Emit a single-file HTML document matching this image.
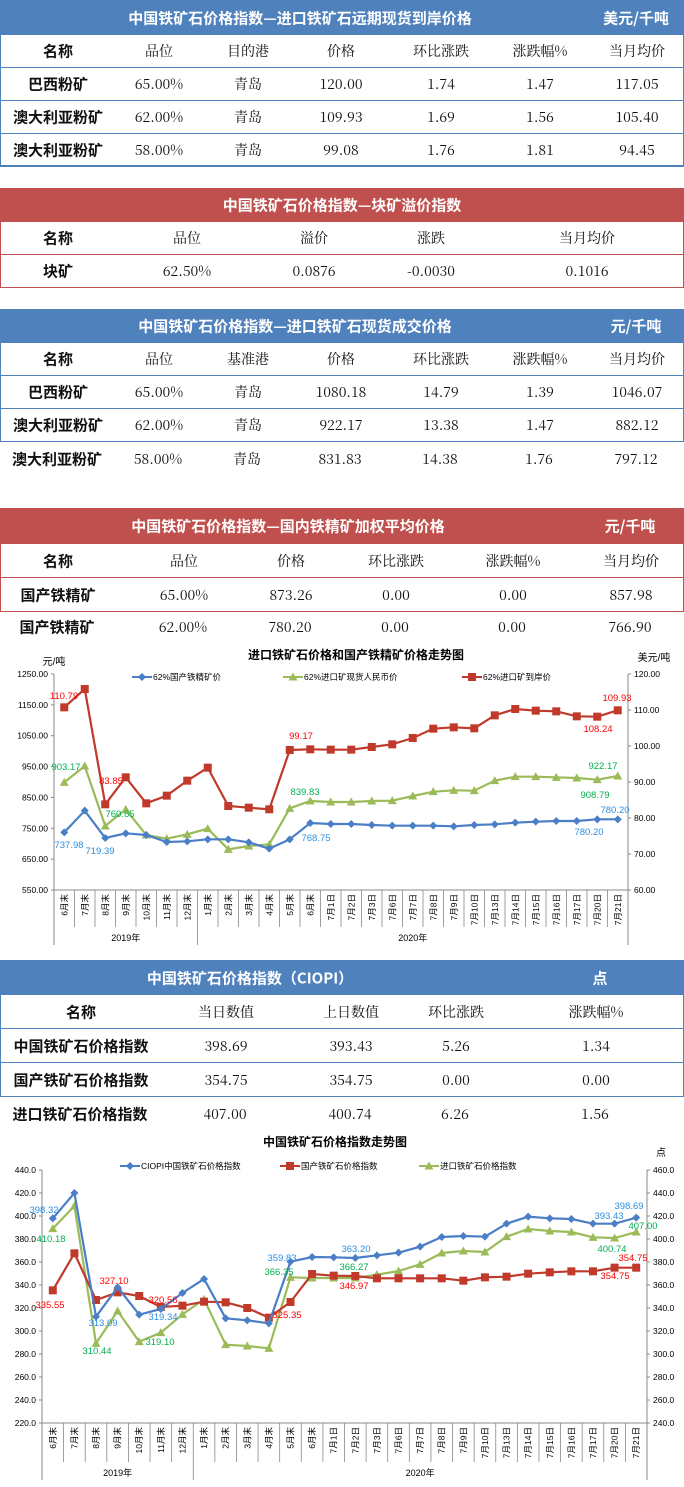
<!DOCTYPE html>
<html><head><meta charset="utf-8">
<style>
*{margin:0;padding:0;box-sizing:border-box}
body{width:684px;height:1487px;background:#fff;position:relative;overflow:hidden;font-family:"Liberation Sans","Noto Sans CJK SC",sans-serif}
.hd{position:absolute;left:0;width:684px;color:#fff;font-weight:bold;font-size:15px;font-family:"Noto Sans CJK SC",sans-serif}
.hd span{position:absolute;top:50%;transform:translate(-50%,-50%);white-space:nowrap}
.blue{background:#4f81bd}.red{background:#c0504d}
.row{position:absolute;left:0;width:684px}
.row span{position:absolute;top:50%;transform:translate(-50%,-50%);white-space:nowrap;font-size:14px;font-family:"Noto Serif CJK SC","Liberation Serif",serif;color:#111}
.row span.b{font-weight:bold;font-family:"Noto Sans CJK SC",sans-serif;font-size:15px}
.bb{border:1.5px solid #4f81bd;border-top:none}
.rb{border:1.5px solid #c0504d;border-top:none}
svg text{font-family:"Liberation Sans","Noto Sans CJK SC",sans-serif}
</style></head><body>

<div class="hd blue" style="top:0;height:35px"><span style="left:300px">中国铁矿石价格指数—进口铁矿石远期现货到岸价格</span><span style="left:636px">美元/千吨</span></div>
<div class="row bb" style="top:35px;height:33px"><span class="b" style="left:57px">名称</span><span style="left:158px">品位</span><span style="left:247px">目的港</span><span style="left:340px">价格</span><span style="left:440px">环比涨跌</span><span style="left:539px">涨跌幅%</span><span style="left:636px">当月均价</span></div>
<div class="row bb" style="top:68px;height:33px"><span class="b" style="left:57px">巴西粉矿</span><span style="left:158px">65.00%</span><span style="left:247px">青岛</span><span style="left:340px">120.00</span><span style="left:440px">1.74</span><span style="left:539px">1.47</span><span style="left:636px">117.05</span></div>
<div class="row bb" style="top:101px;height:33px"><span class="b" style="left:57px">澳大利亚粉矿</span><span style="left:158px">62.00%</span><span style="left:247px">青岛</span><span style="left:340px">109.93</span><span style="left:440px">1.69</span><span style="left:539px">1.56</span><span style="left:636px">105.40</span></div>
<div class="row bb" style="top:134px;height:33px;border-bottom-width:2px"><span class="b" style="left:57px">澳大利亚粉矿</span><span style="left:158px">58.00%</span><span style="left:247px">青岛</span><span style="left:340px">99.08</span><span style="left:440px">1.76</span><span style="left:539px">1.81</span><span style="left:636px">94.45</span></div>

<div class="hd red" style="top:188px;height:34px"><span style="left:342px">中国铁矿石价格指数—块矿溢价指数</span></div>
<div class="row rb" style="top:222px;height:33px"><span class="b" style="left:57px">名称</span><span style="left:186px">品位</span><span style="left:313px">溢价</span><span style="left:430px">涨跌</span><span style="left:586px">当月均价</span></div>
<div class="row rb" style="top:255px;height:33px"><span class="b" style="left:57px">块矿</span><span style="left:186px">62.50%</span><span style="left:313px">0.0876</span><span style="left:430px">-0.0030</span><span style="left:586px">0.1016</span></div>

<div class="hd blue" style="top:309px;height:34px"><span style="left:295px">中国铁矿石价格指数—进口铁矿石现货成交价格</span><span style="left:636px">元/千吨</span></div>
<div class="row bb" style="top:343px;height:33px"><span class="b" style="left:57px">名称</span><span style="left:158px">品位</span><span style="left:247px">基准港</span><span style="left:340px">价格</span><span style="left:440px">环比涨跌</span><span style="left:539px">涨跌幅%</span><span style="left:636px">当月均价</span></div>
<div class="row bb" style="top:376px;height:33px"><span class="b" style="left:57px">巴西粉矿</span><span style="left:158px">65.00%</span><span style="left:247px">青岛</span><span style="left:340px">1080.18</span><span style="left:440px">14.79</span><span style="left:539px">1.39</span><span style="left:636px">1046.07</span></div>
<div class="row bb" style="top:409px;height:33px"><span class="b" style="left:57px">澳大利亚粉矿</span><span style="left:158px">62.00%</span><span style="left:247px">青岛</span><span style="left:340px">922.17</span><span style="left:440px">13.38</span><span style="left:539px">1.47</span><span style="left:636px">882.12</span></div>
<div class="row" style="top:442px;height:34px"><span class="b" style="left:57px">澳大利亚粉矿</span><span style="left:158px">58.00%</span><span style="left:247px">青岛</span><span style="left:340px">831.83</span><span style="left:440px">14.38</span><span style="left:539px">1.76</span><span style="left:636px">797.12</span></div>

<div class="hd red" style="top:508px;height:36px"><span style="left:288px">中国铁矿石价格指数—国内铁精矿加权平均价格</span><span style="left:630px">元/千吨</span></div>
<div class="row rb" style="top:544px;height:34px"><span class="b" style="left:57px">名称</span><span style="left:183px">品位</span><span style="left:290px">价格</span><span style="left:395px">环比涨跌</span><span style="left:512px">涨跌幅%</span><span style="left:630px">当月均价</span></div>
<div class="row rb" style="top:578px;height:34px"><span class="b" style="left:57px">国产铁精矿</span><span style="left:183px">65.00%</span><span style="left:290px">873.26</span><span style="left:395px">0.00</span><span style="left:512px">0.00</span><span style="left:630px">857.98</span></div>
<div class="row" style="top:612px;height:30px"><span class="b" style="left:57px">国产铁精矿</span><span style="left:183px">62.00%</span><span style="left:290px">780.20</span><span style="left:395px">0.00</span><span style="left:512px">0.00</span><span style="left:630px">766.90</span></div>

<div class="hd blue" style="top:960px;height:35px"><span style="left:250px">中国铁矿石价格指数（CIOPI）</span><span style="left:600px">点</span></div>
<div class="row bb" style="top:995px;height:34px"><span class="b" style="left:80px">名称</span><span style="left:225px">当日数值</span><span style="left:350px">上日数值</span><span style="left:455px">环比涨跌</span><span style="left:595px">涨跌幅%</span></div>
<div class="row bb" style="top:1029px;height:34px"><span class="b" style="left:80px">中国铁矿石价格指数</span><span style="left:225px">398.69</span><span style="left:350px">393.43</span><span style="left:455px">5.26</span><span style="left:595px">1.34</span></div>
<div class="row bb" style="top:1063px;height:34px"><span class="b" style="left:80px">国产铁矿石价格指数</span><span style="left:225px">354.75</span><span style="left:350px">354.75</span><span style="left:455px">0.00</span><span style="left:595px">0.00</span></div>
<div class="row" style="top:1097px;height:33px"><span class="b" style="left:80px">进口铁矿石价格指数</span><span style="left:225px">407.00</span><span style="left:350px">400.74</span><span style="left:455px">6.26</span><span style="left:595px">1.56</span></div>

<svg id="s" width="684" height="1487" style="position:absolute;left:0;top:0"></svg>
<script>
var cats=["6月末","7月末","8月末","9月末","10月末","11月末","12月末","1月末","2月末","3月末","4月末","5月末","6月末","7月1日","7月2日","7月3日","7月6日","7月7日","7月8日","7月9日","7月10日","7月13日","7月14日","7月15日","7月16日","7月17日","7月20日","7月21日"];
var o='';
function T(x,y,t,c,s,a,extra){o+='<text x="'+x+'" y="'+y+'" fill="'+(c||'#000')+'" font-size="'+(s||9)+'" text-anchor="'+(a||'middle')+'" '+(extra||'')+'>'+t+'</text>';}
function mk(type,x,y,c){
 if(type=='d')o+='<polygon points="'+x+','+(y-4)+' '+(x+4)+','+y+' '+x+','+(y+4)+' '+(x-4)+','+y+'" fill="'+c+'"/>';
 else if(type=='s')o+='<rect x="'+(x-4)+'" y="'+(y-4)+'" width="8" height="8" fill="'+c+'"/>';
 else o+='<polygon points="'+x+','+(y-4.5)+' '+(x+4.5)+','+(y+3.5)+' '+(x-4.5)+','+(y+3.5)+'" fill="'+c+'"/>';}
function chart(c){
 var n=28,w=(c.R-c.L)/n;
 o+='<line x1="'+c.L+'" y1="'+c.T+'" x2="'+c.L+'" y2="'+c.yb+'" stroke="#888"/>';
 o+='<line x1="'+c.R+'" y1="'+c.T+'" x2="'+c.R+'" y2="'+c.yb+'" stroke="#888"/>';
 o+='<line x1="'+c.L+'" y1="'+c.B+'" x2="'+c.R+'" y2="'+c.B+'" stroke="#888"/>';
 for(var i=0;i<=n;i++){var x=c.L+i*w;o+='<line x1="'+x+'" y1="'+c.B+'" x2="'+x+'" y2="'+(i==0||i==7||i==n?c.yb:c.catB)+'" stroke="#888" stroke-width="0.8"/>';}
 for(var i=0;i<n;i++){var x=c.L+(i+.5)*w,y=c.B+4;T(0,0,cats[i],'#000',8.5,'end','transform="translate('+(x+3)+','+y+') rotate(-90)"');}
 T(c.L+3.5*w,c.yr,'2019年','#000',9);T(c.L+17.5*w,c.yr,'2020年','#000',9);
 for(var k=0;k<c.lt.length;k++){var y=c.T+(c.B-c.T)*k/(c.lt.length-1);
  o+='<line x1="'+(c.L-3)+'" y1="'+y+'" x2="'+c.L+'" y2="'+y+'" stroke="#888"/>';
  T(c.L-6,y+3,c.lt[k],'#000',8.5,'end');}
 for(var k=0;k<c.rt.length;k++){var y=c.T+(c.B-c.T)*k/(c.rt.length-1);
  o+='<line x1="'+c.R+'" y1="'+y+'" x2="'+(c.R+3)+'" y2="'+y+'" stroke="#888"/>';
  T(c.R+6,y+3,c.rt[k],'#000',8.5,'start');}
 c.s.forEach(function(s){var p=s.y.map(function(v,i){return [c.L+(i+.5)*w,c.oy+v/3];});
  o+='<polyline points="'+p.map(function(q){return q.join(',')}).join(' ')+'" fill="none" stroke="'+s.c+'" stroke-width="2.2"/>';
  p.forEach(function(q){mk(s.m,q[0],q[1],s.c);});});
 c.lab.forEach(function(l){T(l[0],l[1],l[2],l[3],9.5);});
 c.leg.forEach(function(l){o+='<line x1="'+l[0]+'" y1="'+c.ly+'" x2="'+(l[0]+20)+'" y2="'+c.ly+'" stroke="'+l[2]+'" stroke-width="2"/>';mk(l[3],l[0]+10,c.ly,l[2]);T(l[0]+21,c.ly+3,l[1],'#000',8.5,'start');});
}
var B='#4a7ec6',R='#c0392b',G='#9bbb59',RT='#ff0000',GT='#00b050',BT='#2e8fe0';
chart({L:54,R:628,T:674,B:890,catB:927,yb:945,yr:941,oy:640,ly:677,
 lt:['1250.00','1150.00','1050.00','950.00','850.00','750.00','650.00','550.00'],
 rt:['120.00','110.00','100.00','90.00','80.00','70.00','60.00'],
 s:[{c:R,m:'s',y:[202,147,493,412,490,467,422,383,498,503,508,330,328,329,329,321,313,294,266,262,265,226,207,212,214,229,230,211]},
    {c:G,m:'t',y:[427,378,558,508,585,596,583,566,628,618,613,505,483,486,486,483,482,468,455,451,452,422,410,410,412,414,419,408]},
    {c:B,m:'d',y:[577,512,594,580,585,606,604,598,598,607,626,598,549,552,552,555,557,557,557,559,555,553,548,545,543,543,538,538]}],
 lab:[[64,699,'110.79',RT],[111,784,'83.85',RT],[301,739,'99.17',RT],[617,701,'109.93',RT],[598,732,'108.24',RT],
  [66,770,'903.17',GT],[120,817,'760.65',GT],[305,795,'839.83',GT],[603,769,'922.17',GT],[595,798,'908.79',GT],
  [69,848,'737.98',BT],[100,854,'719.39',BT],[316,841,'768.75',BT],[615,813,'780.20',BT],[589,835,'780.20',BT]],
 leg:[[132,'62%国产铁精矿价',B,'d'],[283,'62%进口矿现货人民币价',G,'t'],[462,'62%进口矿到岸价',R,'s']]});
chart({L:42,R:647,T:1170,B:1423,catB:1462,yb:1480,yr:1476,oy:1130,ly:1166,
 lt:['440.0','420.0','400.0','380.0','360.0','340.0','320.0','300.0','280.0','260.0','240.0','220.0'],
 rt:['460.0','440.0','420.0','400.0','380.0','360.0','340.0','320.0','300.0','280.0','260.0','240.0'],
 s:[{c:G,m:'t',y:[296,228,640,543,635,608,553,508,644,648,655,442,444,444,444,434,423,403,369,363,366,320,297,303,306,322,324,306]},
    {c:R,m:'s',y:[481,370,510,487,498,531,527,515,517,534,563,516,432,437,438,445,445,445,445,452,442,440,431,427,424,424,413,413]},
    {c:B,m:'d',y:[265,189,560,472,554,537,489,447,565,571,580,395,381,382,384,376,368,350,321,318,320,281,260,265,267,281,281,263]}],
 lab:[[44,1213,'398.32',BT],[103,1326,'313.09',BT],[163,1320,'319.34',BT],[282,1261,'359.83',BT],[356,1252,'363.20',BT],[609,1219,'393.43',BT],[629,1209,'398.69',BT],
  [50,1308,'335.55',RT],[114,1284,'327.10',RT],[163,1303,'320.56',RT],[287,1318,'325.35',RT],[354,1289,'346.97',RT],[633,1261,'354.75',RT],[615,1279,'354.75',RT],
  [51,1242,'410.18',GT],[97,1354,'310.44',GT],[160,1345,'319.10',GT],[279,1275,'366.35',GT],[354,1270,'366.27',GT],[643,1229,'407.00',GT],[612,1252,'400.74',GT]],
 leg:[[120,'CIOPI中国铁矿石价格指数',B,'d'],[280,'国产铁矿石价格指数',R,'s'],[419,'进口铁矿石价格指数',G,'t']]});
T(356,659,'进口铁矿石价格和国产铁精矿价格走势图','#000',12,'middle','font-weight="bold"');
T(54,665,'元/吨','#000',10);T(654,661,'美元/吨','#000',10);
T(335,1146,'中国铁矿石价格指数走势图','#000',12,'middle','font-weight="bold"');
T(661,1156,'点','#000',10);
document.getElementById('s').innerHTML=o;
</script>
</body></html>
